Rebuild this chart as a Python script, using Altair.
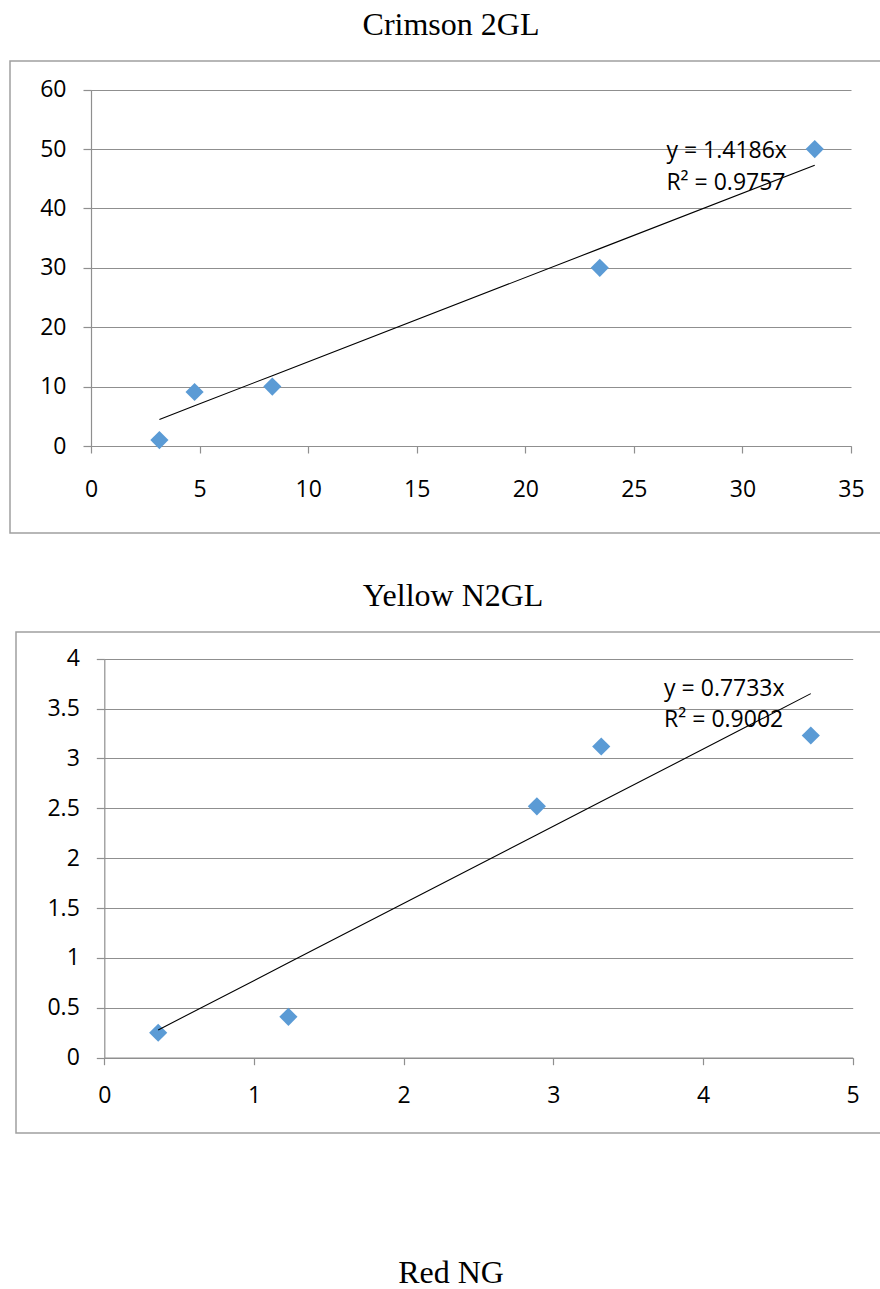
import altair as alt
import pandas as pd

# ---- data ----
titles = ["Crimson 2GL", "Yellow N2GL", "Red NG"]

crimson_x = [3.15, 4.77, 8.35, 23.43, 33.33]
crimson_y = [1.0, 9.1, 10.0, 30.0, 50.0]
crimson_slope = 1.4186
crimson_r2 = "0.9757"
crimson_xticks = [0, 5, 10, 15, 20, 25, 30, 35]
crimson_yticks = [0, 10, 20, 30, 40, 50, 60]

yellow_x = [0.36, 1.23, 2.89, 3.32, 4.72]
yellow_y = [0.25, 0.41, 2.52, 3.12, 3.23]
yellow_slope = 0.7733
yellow_r2 = "0.9002"
yellow_xticks = [0, 1, 2, 3, 4, 5]
yellow_yticks = [0, 0.5, 1, 1.5, 2, 2.5, 3, 3.5, 4]

# ---- styling ----
W, H = 880, 1289
BLUE = "#5B9BD5"
GRID = "#8F8F8F"
BORDER = "#A0A0A0"
FONT = "Open Sans"
SERIF = "Liberation Serif"
LFS = 23


def panel(xs, ys, slope, r2, xticks, yticks, xrange, yrange, xpad, eqx, eqy1, eqy2):
    df = pd.DataFrame({"x": xs, "y": ys})
    xscale = alt.Scale(domain=[xticks[0], xticks[-1]], range=xrange, nice=False, zero=False)
    yscale = alt.Scale(domain=[yticks[0], yticks[-1]], range=yrange, nice=False, zero=False)
    xaxis = alt.Axis(orient="bottom", offset=yrange[0] - H, values=xticks, grid=False,
                     tickSize=7, tickColor=GRID, tickWidth=1.2, domainColor=GRID, domainWidth=1.2,
                     labelPadding=xpad, labelFont=FONT, labelFontSize=LFS, labelColor="black",
                     labelFlush=False, labelOverlap=False, title=None, format="~r")
    yaxis = alt.Axis(orient="left", offset=-xrange[0], values=yticks, grid=True,
                     gridColor=GRID, gridWidth=1.2, tickSize=8, tickColor=GRID, tickWidth=1.2,
                     domainColor=GRID, domainWidth=1.2, labelPadding=17, labelFont=FONT,
                     labelFontSize=LFS, labelColor="black", labelFlush=False,
                     labelOverlap=False, title=None, format="~r")
    base = alt.Chart(df)
    pts = base.mark_point(shape="diamond", filled=True, size=330, color=BLUE, opacity=1).encode(
        x=alt.X("x:Q", scale=xscale, axis=xaxis),
        y=alt.Y("y:Q", scale=yscale, axis=yaxis),
    )
    line = base.transform_calculate(fit=f"{slope} * datum.x").mark_line(
        color="black", strokeWidth=1.1
    ).encode(
        x=alt.X("x:Q", scale=xscale, axis=xaxis),
        y=alt.Y("fit:Q", scale=yscale, axis=yaxis),
    )
    eq = pd.DataFrame({
        "x": [eqx, eqx],
        "y": [eqy1, eqy2],
        "t": [f"y = {slope}x", f"R² = {r2}"],
    })
    txt = alt.Chart(eq).mark_text(align="left", baseline="middle", font=FONT,
                                  fontSize=LFS, color="black").encode(
        x=alt.X("x:Q", scale=xscale, axis=xaxis),
        y=alt.Y("y:Q", scale=yscale, axis=yaxis),
        text="t:N",
    )
    return alt.layer(pts, line, txt)


p1 = panel(crimson_x, crimson_y, crimson_slope, crimson_r2, crimson_xticks, crimson_yticks,
           [91, 851], [446, 89.7], 25, 26.5, 49.7, 44.3)
p2 = panel(yellow_x, yellow_y, yellow_slope, yellow_r2, yellow_xticks, yellow_yticks,
           [104.3, 852.7], [1057.7, 658.7], 20, 3.74, 3.70, 3.385)

dummy = pd.DataFrame({"k": [0]})
border1 = alt.Chart(dummy).mark_rect(fill="transparent", stroke=BORDER, strokeWidth=1.5).encode(
    x=alt.value(10), x2=alt.value(895), y=alt.value(61), y2=alt.value(533))
border2 = alt.Chart(dummy).mark_rect(fill="transparent", stroke=BORDER, strokeWidth=1.5).encode(
    x=alt.value(16), x2=alt.value(895), y=alt.value(632), y2=alt.value(1133))


def title_mark(i, x, y):
    return alt.Chart(pd.DataFrame({"t": [titles[i]]})).mark_text(
        font=SERIF, fontSize=32, color="black", align="center", baseline="alphabetic"
    ).encode(x=alt.value(x), y=alt.value(y), text="t:N")


t1 = title_mark(0, 451, 35)
t2 = title_mark(1, 453, 606)
t3 = title_mark(2, 451, 1283)

chart = alt.layer(border1, border2, p1, p2, t1, t2, t3).resolve_scale(
    x="independent", y="independent"
).properties(
    width=W, height=H, padding=0, autosize=alt.AutoSizeParams(type="none")
).configure_view(strokeWidth=0)

chart.save("out.html", embed_options={"renderer": "svg", "actions": False})
